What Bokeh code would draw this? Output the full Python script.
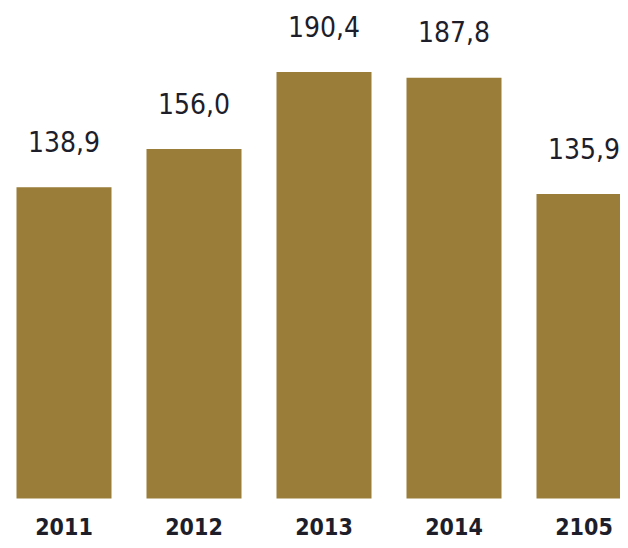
from bokeh.plotting import figure
from bokeh.models import Range1d, ColumnDataSource
from bokeh.core.properties import value
from bokeh.embed import file_html
from bokeh.resources import INLINE

years = ["2011", "2012", "2013", "2014", "2105"]
values = [138.9, 156.0, 190.4, 187.8, 135.9]
labels = ["138,9", "156,0", "190,4", "187,8", "135,9"]

xs = list(range(len(years)))
src = ColumnDataSource(dict(x=xs, top=values, label=labels, year=years,
                            base=[0] * len(xs)))

p = figure(width=620, height=540, output_backend="svg", toolbar_location=None,
           x_range=Range1d(-0.48846, 4.28077), y_range=Range1d(-18.75, 222.32),
           min_border_left=0, min_border_right=0, min_border_top=0, min_border_bottom=0)
p.outline_line_color = None
p.grid.visible = False
p.axis.visible = False

p.vbar(x="x", top="top", bottom=0, width=0.7308, source=src,
       fill_color="#997d38", line_color=None)

p.text(x="x", y="top", text="label", source=src, y_offset=-46,
       text_align="center", text_baseline="alphabetic",
       text_font=value("DejaVu Sans Condensed"), text_font_size="28px",
       text_color="#1e1e2a")

p.text(x="x", y="base", text="year", source=src, y_offset=28,
       text_align="center", text_baseline="alphabetic",
       text_font=value("DejaVu Sans Condensed"), text_font_style="bold",
       text_font_size="23px", text_color="#1e1e2a")

open("out.html", "w").write(file_html(p, INLINE))
